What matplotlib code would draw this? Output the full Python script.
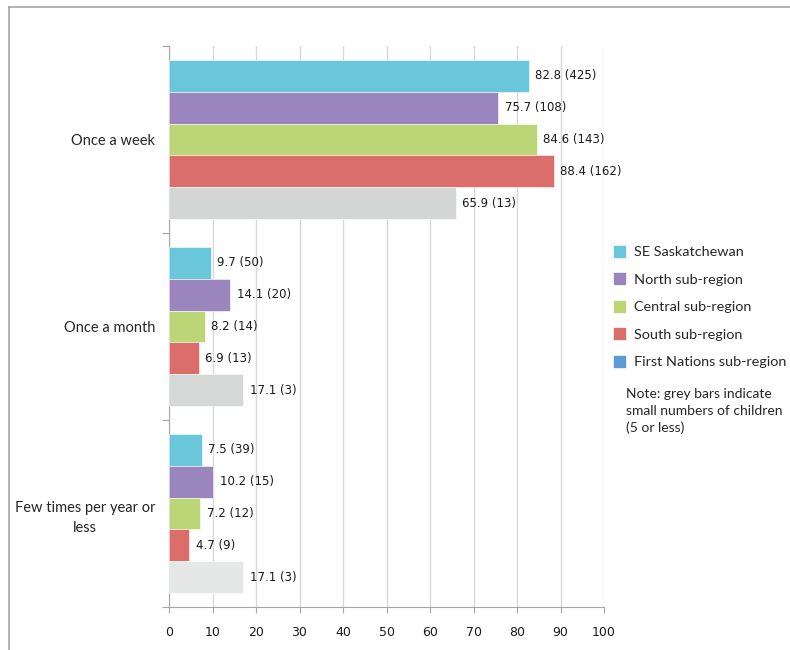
import numpy as np
import matplotlib
matplotlib.use('Agg')
import matplotlib.pyplot as plt
from matplotlib.patches import Patch
from matplotlib.lines import Line2D

categories = ['Once a week', 'Once a month', 'Few times per year or\nless']
series = ['SE Saskatchewan', 'North sub-region', 'Central sub-region',
          'South sub-region', 'First Nations sub-region']
se_pct = [82.8, 9.7, 7.5]
se_n = [425, 50, 39]
north_pct = [75.7, 14.1, 10.2]
north_n = [108, 20, 15]
central_pct = [84.6, 8.2, 7.2]
central_n = [143, 14, 12]
south_pct = [88.4, 6.9, 4.7]
south_n = [162, 13, 9]
fn_pct = [65.9, 17.1, 17.1]
fn_n = [13, 3, 3]

colors = ['#6AC6DA', '#9A85BE', '#BCD576', '#DB6D6A']
fn_legend_color = '#5B9BD5'
fn_bar_colors = ['#D4D6D6', '#D6D7D7', '#E6E7E7']  # grey = small numbers

pcts = [se_pct, north_pct, central_pct, south_pct, fn_pct]
ns = [se_n, north_n, central_n, south_n, fn_n]

fig = plt.figure(figsize=(7.9, 6.5), dpi=100)
ax = fig.add_axes([169/790, 1-607/650, 435/790, 561/650])

bh = 0.171
y = np.arange(len(categories))
for j in range(5):
    yy = y + (j - 2) * bh
    c = colors[j] if j < 4 else fn_bar_colors
    ax.barh(yy, pcts[j], height=bh, color=c, edgecolor='white', linewidth=0.4, zorder=3)
    for k in range(len(categories)):
        ax.annotate('%.1f (%d)' % (pcts[j][k], ns[j][k]), (pcts[j][k], yy[k]),
                    xytext=(4.5, 0), textcoords='offset points',
                    va='center', ha='left', fontsize=8.5, color='#1a1a1a',
                    family='DejaVu Sans')

ax.set_xlim(0, 100)
ax.set_ylim(2.5, -0.5)
ax.set_xticks(np.arange(0, 101, 10))
ax.tick_params(axis='x', length=4, width=0.8, color='#A6A6A6', pad=10,
               labelsize=9, labelcolor='#1a1a1a')
ax.set_yticks(y)
ax.set_yticklabels(categories, family='Lato', fontsize=10.5, multialignment='center',
                   color='#262626', linespacing=1.55)
ax.tick_params(axis='y', which='major', length=0, pad=10)
ax.set_yticks([-0.5, 0.5, 1.5, 2.5], minor=True)
ax.tick_params(axis='y', which='minor', length=5, width=0.8, color='#A6A6A6')
ax.grid(axis='x', color='#D9D9D9', linewidth=1.0, zorder=0)
ax.set_axisbelow(True)
for s in ['top', 'right']:
    ax.spines[s].set_visible(False)
for s in ['left', 'bottom']:
    ax.spines[s].set_color('#A6A6A6')
    ax.spines[s].set_linewidth(0.8)

handles = [Patch(color=colors[j]) for j in range(4)] + [Patch(color=fn_legend_color)]
leg = ax.legend(handles, series, loc='upper left', bbox_to_anchor=(614/790, 1-246/650),
                bbox_transform=fig.transFigure, frameon=False, handlelength=0.75,
                handleheight=0.75, handletextpad=0.6, labelspacing=1.05,
                borderaxespad=0, borderpad=0,
                prop={'family': 'Lato', 'size': 10.4})
for t in leg.get_texts():
    t.set_color('#262626')
fig.text(626/790, 1-411/650, 'Note: grey bars indicate\nsmall numbers of children\n(5 or less)',
         family='Lato', fontsize=10, va='center', ha='left', linespacing=1.45,
         color='#262626')

fig.add_artist(Line2D([9/790, 9/790], [0, 1-7/650], color='#A6A6A6', linewidth=1.2))
fig.add_artist(Line2D([9/790, 1], [1-7/650, 1-7/650], color='#A6A6A6', linewidth=1.2))

fig.savefig('out.png', dpi=100)
